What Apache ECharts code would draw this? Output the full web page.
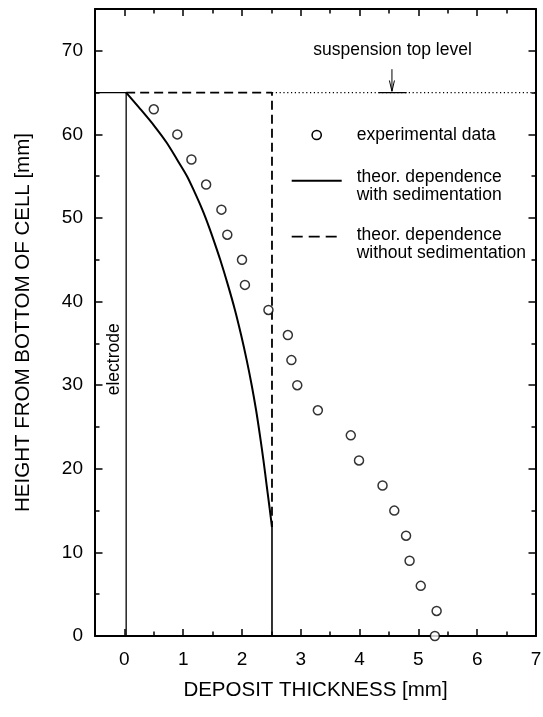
<!DOCTYPE html>
<html>
<head>
<meta charset="utf-8">
<script src="https://cdn.jsdelivr.net/npm/echarts@6/dist/echarts.min.js"></script>
<style>
  html, body { margin: 0; padding: 0; background: #fff; }
  #chart { width: 543px; height: 717px; }
</style>
</head>
<body>
<div id="chart"></div>
<script>
// Measured deposit profile (thickness in mm vs height in mm)
const expHeight    = [0, 3, 6, 9, 12, 15, 18, 21, 24, 27, 30, 33, 36, 39, 42, 45, 48, 51, 54, 57, 60, 63];
const expThickness = [5.28, 5.31, 5.04, 4.85, 4.79, 4.59, 4.39, 3.99, 3.85, 3.29, 2.94, 2.84, 2.78, 2.45, 2.05, 2.00, 1.75, 1.65, 1.39, 1.14, 0.90, 0.50];

// Theoretical profile including sedimentation
const sedHeight    = [65, 63, 61, 59, 57, 55, 53, 51, 49, 47, 45, 42, 39, 36, 33, 30, 27, 24, 21, 18, 15, 13];
const sedThickness = [0.03, 0.275, 0.51, 0.72, 0.895, 1.065, 1.2, 1.325, 1.435, 1.535, 1.63, 1.76, 1.88, 1.985, 2.08, 2.165, 2.24, 2.305, 2.365, 2.42, 2.475, 2.51];
// vertical foot of the sedimentation curve
const footHeight    = [13, 0];
const footThickness = [2.51, 2.51];

// Theoretical profile without sedimentation (uniform deposit)
const flatHeight    = [65, 65, 13];
const flatThickness = [0.03, 2.51, 2.51];

// Electrode outline and suspension level
const electrodeHeight    = [0, 65, 65];
const electrodeThickness = [0.03, 0.03, -0.5];
const levelHeight        = [65, 65];
const levelThickness     = [2.51, 7];
const levelMarkThickness = [4.32, 4.80];
const arrowShaftHeight    = [67.8, 65.2];
const arrowShaftThickness = [4.55, 4.55];
const arrowHeadHeight     = [66.45, 65.15, 66.45];
const arrowHeadThickness  = [4.507, 4.55, 4.593];

// Axis tick positions
const xMajor = [0, 1, 2, 3, 4, 5, 6, 7];
const xMinor = [0.5, 1.5, 2.5, 3.5, 4.5, 5.5, 6.5];
const yMajor = [0, 10, 20, 30, 40, 50, 60, 70];
const yMinor = [5, 15, 25, 35, 45, 55, 65];

const FONT = '"Liberation Sans", Arial, Helvetica, sans-serif';
const zip = (xs, ys) => xs.map((x, i) => [x, ys[i]]);

function xAxisDef(position, ticks, len, showLine, showLabel) {
  return {
    type: 'value', position: position, min: -0.5, max: 7, interval: 0.5,
    axisLine: { show: showLine, onZero: false, lineStyle: { color: '#000', width: 2 } },
    axisTick: { show: true, inside: true, length: len, customValues: ticks, lineStyle: { color: '#000', width: 1.5 } },
    axisLabel: { show: showLabel, customValues: xMajor, margin: 14, color: '#000', fontSize: 19, fontFamily: FONT },
    splitLine: { show: false }
  };
}
function yAxisDef(position, ticks, len, showLine, showLabel) {
  return {
    type: 'value', position: position, min: 0, max: 75, interval: 5,
    axisLine: { show: showLine, onZero: false, lineStyle: { color: '#000', width: 2 } },
    axisTick: { show: true, inside: true, length: len, customValues: ticks, lineStyle: { color: '#000', width: 1.5 } },
    axisLabel: { show: showLabel, customValues: yMajor, margin: 12, color: '#000', fontSize: 19, fontFamily: FONT },
    splitLine: { show: false }
  };
}

const xBottom = xAxisDef('bottom', xMajor, 7, true, true);
xBottom.name = 'DEPOSIT THICKNESS [mm]';
xBottom.nameLocation = 'middle';
xBottom.nameGap = 44;
xBottom.nameTextStyle = { color: '#000', fontSize: 20.5, fontFamily: FONT };

const yLeft = yAxisDef('left', yMajor, 7.5, true, true);
yLeft.name = 'HEIGHT FROM BOTTOM OF CELL [mm]';
yLeft.nameLocation = 'middle';
yLeft.nameGap = 61;
yLeft.nameTextStyle = { color: '#000', fontSize: 20.5, fontFamily: FONT };

function lineSeries(xs, ys, width, type, z) {
  return {
    type: 'line', data: zip(xs, ys), symbol: 'none', silent: true, animation: false,
    xAxisIndex: 0, yAxisIndex: 0, z: z || 2,
    lineStyle: { color: '#000', width: width, type: type || 'solid' }
  };
}
function textSeries(x, y, text, rotate) {
  return {
    type: 'scatter', data: [[x, y]], symbolSize: 0, silent: true, animation: false,
    xAxisIndex: 0, yAxisIndex: 0,
    itemStyle: { color: '#000', opacity: 1 },
    label: { show: true, position: 'inside', rotate: rotate || 0, formatter: text,
             color: '#000', textBorderWidth: 0, textBorderColor: 'transparent',
             fontSize: 17.5, fontFamily: FONT }
  };
}

const sedCurve = lineSeries(sedThickness, sedHeight, 2);
sedCurve.smooth = 0.3;

const option = {
  backgroundColor: '#fff',
  animation: false,
  grid: { left: 95, right: 7, top: 9, bottom: 81, containLabel: false, outerBoundsMode: 'none' },
  xAxis: [
    xBottom,
    xAxisDef('bottom', xMinor, 4.5, false, false),
    xAxisDef('top', xMajor, 7, true, false),
    xAxisDef('top', xMinor, 4.5, false, false)
  ],
  yAxis: [
    yLeft,
    yAxisDef('left', yMinor, 4.5, false, false),
    yAxisDef('right', yMajor, 7.5, true, false),
    yAxisDef('right', yMinor, 4.5, false, false)
  ],
  series: [
    lineSeries(electrodeThickness, electrodeHeight, 1.3),
    lineSeries(levelThickness, levelHeight, 1.2, [1.2, 2.6]),
    lineSeries(levelMarkThickness, levelHeight, 1.3),
    lineSeries(arrowShaftThickness, arrowShaftHeight, 1),
    lineSeries(arrowHeadThickness, arrowHeadHeight, 1),
    lineSeries(flatThickness, flatHeight, 1.8, [9, 5]),
    sedCurve,
    lineSeries(footThickness, footHeight, 1.6),
    {
      type: 'scatter', name: 'experimental data', data: zip(expThickness, expHeight),
      symbol: 'circle', symbolSize: 9, silent: true, animation: false, z: 5,
      xAxisIndex: 0, yAxisIndex: 0,
      itemStyle: { color: '#fff', borderColor: '#000', borderWidth: 1.5 }
    },
    textSeries(4.56, 70.1, 'suspension top level', 0),
    textSeries(-0.17, 33.1, 'electrode', 90)
  ],
  graphic: [
    { type: 'circle', shape: { cx: 316.7, cy: 135, r: 4.6 }, style: { fill: '#fff', stroke: '#000', lineWidth: 1.5 } },
    { type: 'text', x: 356.7, y: 135, style: { text: 'experimental data', fill: '#000', fontSize: 17.5, fontFamily: FONT, verticalAlign: 'middle' } },
    { type: 'line', shape: { x1: 291.7, y1: 180.7, x2: 341.7, y2: 180.7 }, style: { stroke: '#000', lineWidth: 2 } },
    { type: 'text', x: 356.7, y: 186, style: { text: 'theor. dependence\nwith sedimentation', fill: '#000', fontSize: 17.5, fontFamily: FONT, lineHeight: 18.5, verticalAlign: 'middle' } },
    { type: 'line', shape: { x1: 291.7, y1: 236.7, x2: 338, y2: 236.7 }, style: { stroke: '#000', lineWidth: 1.8, lineDash: [11, 6] } },
    { type: 'text', x: 356.7, y: 244, style: { text: 'theor. dependence\nwithout sedimentation', fill: '#000', fontSize: 17.5, fontFamily: FONT, lineHeight: 18.5, verticalAlign: 'middle' } }
  ]
};

const chart = echarts.init(document.getElementById('chart'), null, { renderer: 'canvas' });
chart.setOption(option);
</script>
</body>
</html>
